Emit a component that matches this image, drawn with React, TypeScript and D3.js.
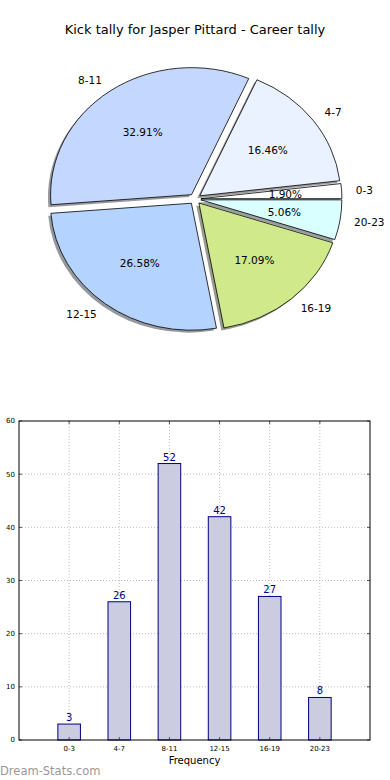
import * as d3 from "d3";

const categories = ["0-3", "4-7", "8-11", "12-15", "16-19", "20-23"];
const kicks = [3, 26, 52, 42, 27, 8];
const sliceColors = ["#ffffff", "#eaf1ff", "#c4d8ff", "#b4d4ff", "#cfe98b", "#d9ffff"];
const yTicks = [0, 10, 20, 30, 40, 50, 60];

const font = "'DejaVu Sans', sans-serif";

const Pie = () => {
  // pie sits in an axes that is not square, so it comes out as an ellipse
  const cx = 195;
  const cy = 199;
  const rx = 141;
  const ry = 127;
  const explode = 0.042;

  const total = d3.sum(kicks);
  // counter-clockwise from 3 o'clock, like matplotlib
  const arcs = d3
    .pie<number>()
    .sort(null)
    .startAngle(Math.PI / 2)
    .endAngle(Math.PI / 2 - 2 * Math.PI)(kicks);

  const pt = (ox: number, oy: number, a: number, k = 1) => [
    ox + k * rx * Math.sin(a),
    oy - k * ry * Math.cos(a),
  ];

  const wedges = arcs.map((a, i) => {
    const mid = (a.startAngle + a.endAngle) / 2;
    const [ox, oy] = pt(cx, cy, mid, explode);
    const [x0, y0] = pt(ox, oy, a.startAngle);
    const [x1, y1] = pt(ox, oy, a.endAngle);
    const large = Math.abs(a.endAngle - a.startAngle) > Math.PI ? 1 : 0;
    const d = `M${ox},${oy}L${x0},${y0}A${rx},${ry} 0 ${large} 0 ${x1},${y1}Z`;
    return { d, mid, ox, oy, i, value: a.data };
  });

  return (
    <g>
      {wedges.map((w) => (
        <path
          key={"s" + w.i}
          d={w.d}
          transform="translate(-2.6,2.4)"
          fill={d3.rgb(sliceColors[w.i]).darker(4).formatHex()}
          opacity={0.5}
        />
      ))}
      {wedges.map((w) => (
        <path key={"w" + w.i} d={w.d} fill={sliceColors[w.i]} stroke="#000" strokeWidth={0.8} />
      ))}
      {wedges.map((w) => {
        const [lx, ly] = pt(w.ox, w.oy, w.mid, 1.1);
        const [px, py] = pt(w.ox, w.oy, w.mid, 0.6);
        return (
          <g key={"t" + w.i} fontFamily={font} fontSize={10.5} fill="#000">
            <text x={lx} y={ly} dy="0.35em" textAnchor={lx > cx ? "start" : "end"}>
              {categories[w.i]}
            </text>
            <text x={px} y={py} dy="0.35em" textAnchor="middle">
              {((w.value / total) * 100).toFixed(2)}%
            </text>
          </g>
        );
      })}
    </g>
  );
};

const Bars = () => {
  const left = 19;
  const right = 370;
  const top = 421;
  const bottom = 740;

  const x = d3.scalePoint<string>().domain(categories).range([left, right]).padding(1);
  const y = d3.scaleLinear().domain([0, 60]).range([bottom, top]);
  const bw = x.step() * 0.45;

  return (
    <g fontFamily={font}>
      {/* grid */}
      {categories.map((c) => (
        <line
          key={"gx" + c}
          x1={x(c)}
          x2={x(c)}
          y1={top}
          y2={bottom}
          stroke="#bbb"
          strokeWidth={1}
          strokeDasharray="1,2"
        />
      ))}
      {yTicks.slice(1, -1).map((t) => (
        <line
          key={"gy" + t}
          x1={left}
          x2={right}
          y1={y(t)}
          y2={y(t)}
          stroke="#bbb"
          strokeWidth={1}
          strokeDasharray="1,2"
        />
      ))}
      {/* bars */}
      {kicks.map((v, i) => (
        <rect
          key={"b" + i}
          x={x(categories[i])! - bw / 2}
          y={y(v)}
          width={bw}
          height={y(0) - y(v)}
          fill="#cccce0"
          stroke="#000080"
          strokeWidth={1}
        />
      ))}
      {kicks.map((v, i) => (
        <text
          key={"v" + i}
          x={x(categories[i])}
          y={y(v) - 3}
          textAnchor="middle"
          fontSize={10}
          fill="#000080"
        >
          {v}
        </text>
      ))}
      {/* ticks */}
      {categories.map((c) => (
        <g key={"tx" + c}>
          <line x1={x(c)} x2={x(c)} y1={bottom} y2={bottom - 3} stroke="#555" />
          <line x1={x(c)} x2={x(c)} y1={top} y2={top + 3} stroke="#555" />
          <text x={x(c)} y={bottom + 11} textAnchor="middle" fontSize={7} fill="#000">
            {c}
          </text>
        </g>
      ))}
      {yTicks.map((t) => (
        <g key={"ty" + t}>
          <line x1={left} x2={left + 3} y1={y(t)} y2={y(t)} stroke="#555" />
          <line x1={right} x2={right - 3} y1={y(t)} y2={y(t)} stroke="#555" />
          <text x={left - 4} y={y(t)} dy="0.35em" textAnchor="end" fontSize={7} fill="#000">
            {t}
          </text>
        </g>
      ))}
      <rect x={left} y={top} width={right - left} height={bottom - top} fill="none" stroke="#000" strokeWidth={1} />
      <text x={(left + right) / 2} y={764} textAnchor="middle" fontSize={10} fill="#000">
        Frequency
      </text>
    </g>
  );
};

const App = () => {
  return (
    <svg
      width={390}
      height={780}
      style={{ position: "absolute", left: 0, top: 0, background: "#fff" }}
    >
      <text x={195} y={34} textAnchor="middle" fontFamily={font} fontSize={13} fill="#000">
        Kick tally for Jasper Pittard - Career tally
      </text>
      <Pie />
      <Bars />
      <text x={0} y={775} fontFamily={font} fontSize={11.5} fill="#999">
        Dream-Stats.com
      </text>
    </svg>
  );
};

export default App;
